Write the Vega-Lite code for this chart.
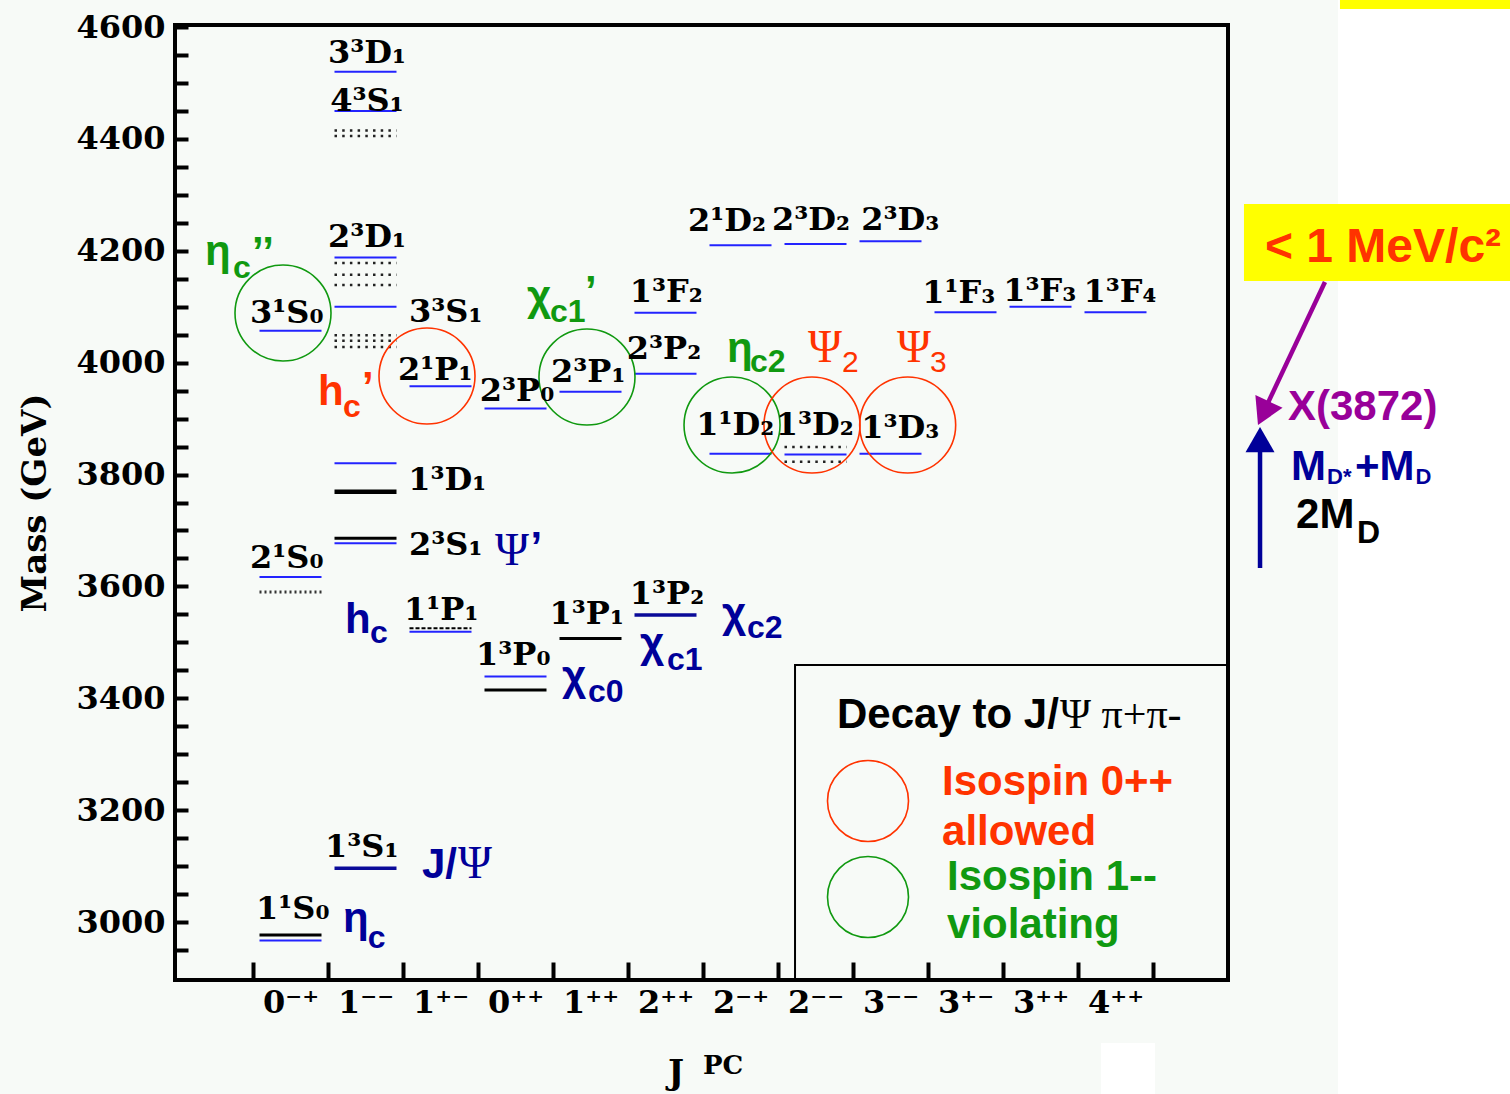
{
"$schema": "https://vega.github.io/schema/vega-lite/v6.json",
"width": 1053, "height": 955,
"autosize": "none",
"padding": {"left": 175, "top": 25, "right": 282, "bottom": 114},
"background": "#f7faf7",
"config": {"view": {"stroke": "#000000", "strokeWidth": 4}, "text": {"font": "Liberation Sans"}},
"datasets": {
"levels": [
{"x":0,"y":4057,"k":"b"},{"x":0,"y":3617,"k":"b"},{"x":0,"y":3590,"k":"h"},{"x":0,"y":2977,"k":"k"},{"x":0,"y":2967,"k":"b"},
{"x":1,"y":4520,"k":"b"},{"x":1,"y":4450,"k":"b"},{"x":1,"y":4415,"k":"d"},{"x":1,"y":4405,"k":"d"},{"x":1,"y":4188,"k":"b"},{"x":1,"y":4178,"k":"d"},{"x":1,"y":4157,"k":"d"},{"x":1,"y":4139,"k":"d"},{"x":1,"y":4100,"k":"b"},{"x":1,"y":4049,"k":"d"},{"x":1,"y":4039,"k":"d"},{"x":1,"y":4028,"k":"d"},{"x":1,"y":3820,"k":"b"},{"x":1,"y":3769,"k":"kk"},{"x":1,"y":3686,"k":"k"},{"x":1,"y":3677,"k":"b"},{"x":1,"y":3096,"k":"n"},
{"x":2,"y":3958,"k":"b"},{"x":2,"y":3525,"k":"dash"},{"x":2,"y":3519,"k":"b"},
{"x":3,"y":3918,"k":"b"},{"x":3,"y":3439,"k":"b"},{"x":3,"y":3415,"k":"k"},
{"x":4,"y":3948,"k":"b"},{"x":4,"y":3507,"k":"k"},
{"x":5,"y":4089,"k":"b"},{"x":5,"y":3980,"k":"b"},{"x":5,"y":3549,"k":"n"},
{"x":6,"y":4210,"k":"b"},{"x":6,"y":3837,"k":"b"},
{"x":7,"y":4212,"k":"b"},{"x":7,"y":3849,"k":"d"},{"x":7,"y":3836,"k":"b"},{"x":7,"y":3823,"k":"d"},
{"x":8,"y":4217,"k":"b"},{"x":8,"y":3837,"k":"b"},
{"x":9,"y":4090,"k":"b"},{"x":10,"y":4100,"k":"b"},{"x":11,"y":4090,"k":"b"}
],
"states": [
{"t":"3³D₁","x":1.02,"y":4553.5},{"t":"4³S₁","x":1.02,"y":4467.7},{"t":"2³D₁","x":1.02,"y":4224.6},
{"t":"3¹S₀","x":-0.05,"y":4088.7},{"t":"3³S₁","x":2.07,"y":4090.5},{"t":"2¹P₁","x":1.93,"y":3986.9},
{"t":"2³P₀","x":3.02,"y":3949.3},{"t":"2³P₁","x":3.97,"y":3983.3},{"t":"2³P₂","x":4.98,"y":4024.4},
{"t":"1³F₂","x":5.01,"y":4126.3},{"t":"2¹D₂","x":5.82,"y":4253.2},{"t":"2³D₂","x":6.94,"y":4255},
{"t":"2³D₃","x":8.13,"y":4255},{"t":"1¹F₃","x":8.91,"y":4124.5},{"t":"1³F₃","x":9.99,"y":4128},
{"t":"1³F₄","x":11.06,"y":4126.3},{"t":"1¹D₂","x":5.93,"y":3888.5},{"t":"1³D₂","x":6.99,"y":3888.5},
{"t":"1³D₃","x":8.13,"y":3883},{"t":"1³D₁","x":2.09,"y":3790.2},{"t":"2³S₁","x":2.07,"y":3674},
{"t":"2¹S₀","x":-0.05,"y":3650.8},{"t":"1¹P₁","x":2.01,"y":3557.8},{"t":"1³P₁","x":3.95,"y":3550.7},
{"t":"1³P₂","x":5.02,"y":3586.4},{"t":"1³P₀","x":2.97,"y":3477.4},{"t":"1³S₁","x":0.95,"y":3134.2},
{"t":"1¹S₀","x":0.03,"y":3023.3}
],
"ann": [
{"t":"η","x":-1.14,"y":4174.6,"g":"violating","p":"main"},
{"t":"c","x":-0.767,"y":4151.3,"g":"violating","p":"sub"},
{"t":"’’","x":-0.513,"y":4172.8,"g":"violating","p":"main"},
{"t":"h","x":0.367,"y":3924.3,"g":"allowed","p":"main"},
{"t":"c","x":0.70,"y":3902.8,"g":"allowed","p":"sub"},
{"t":"’","x":0.953,"y":3931.4,"g":"allowed","p":"main"},
{"t":"h","x":0.727,"y":3516.7,"g":"pdg","p":"main"},
{"t":"c","x":1.06,"y":3498.8,"g":"pdg","p":"sub"},
{"t":"η","x":0.70,"y":2982.2,"g":"pdg","p":"main"},
{"t":"c","x":1.03,"y":2953.6,"g":"pdg","p":"sub"},
{"t":"J/","x":1.753,"y":3078.8,"g":"pdg","p":"main"},
{"t":"Ψ","x":2.233,"y":3078.8,"g":"pdg","p":"psi"},
{"t":"Ψ","x":2.727,"y":3638.3,"g":"pdg","p":"psi"},
{"t":"’","x":3.2,"y":3645.4,"g":"pdg","p":"main"},
{"t":"χ","x":3.62,"y":3414.8,"g":"pdg","p":"main"},
{"t":"c0","x":3.967,"y":3392.9,"g":"pdg","p":"sub"},
{"t":"χ","x":4.66,"y":3473.8,"g":"pdg","p":"main"},
{"t":"c1","x":5.02,"y":3450.6,"g":"pdg","p":"sub"},
{"t":"χ","x":5.753,"y":3527.4,"g":"pdg","p":"main"},
{"t":"c2","x":6.087,"y":3507.8,"g":"pdg","p":"sub"},
{"t":"χ","x":3.153,"y":4094.1,"g":"violating","p":"main"},
{"t":"c1","x":3.46,"y":4072.7,"g":"violating","p":"sub"},
{"t":"’","x":3.927,"y":4103.0,"g":"violating","p":"main"},
{"t":"η","x":5.82,"y":4001.2,"g":"violating","p":"main"},
{"t":"c2","x":6.127,"y":3983.3,"g":"violating","p":"sub"},
{"t":"Ψ","x":6.9,"y":4001.2,"g":"allowed","p":"psi"},
{"t":"2","x":7.353,"y":3983.3,"g":"allowed","p":"subn"},
{"t":"Ψ","x":8.087,"y":4001.2,"g":"allowed","p":"psi"},
{"t":"3","x":8.527,"y":3983.3,"g":"allowed","p":"subn"},
{"t":"X(3872)","x":13.3,"y":3897.5,"g":"x","p":"main"},
{"t":"M","x":13.34,"y":3790.2,"g":"pdg","p":"main"},
{"t":"D*","x":13.82,"y":3783,"g":"pdg","p":"xsub"},
{"t":"+M","x":14.193,"y":3790.2,"g":"pdg","p":"main"},
{"t":"D","x":15.0,"y":3783,"g":"pdg","p":"xsub"},
{"t":"2M","x":13.407,"y":3704.4,"g":"thr","p":"main"},
{"t":"D","x":14.22,"y":3677.6,"g":"thr","p":"sub"},
{"t":"< 1 MeV/c²","x":12.993,"y":4179.9,"g":"note","p":"note"},
{"t":"Decay to J/","x":7.287,"y":3346.9,"g":"thr","p":"main"},
{"t":"Ψ π+π-","x":10.26,"y":3346.9,"g":"thr","p":"psileg"},
{"t":"Isospin 0++","x":8.687,"y":3227.1,"g":"allowed","p":"main"},
{"t":"allowed","x":8.687,"y":3137.8,"g":"allowed","p":"main"},
{"t":"Isospin 1--","x":8.753,"y":3057.3,"g":"violating","p":"main"},
{"t":"violating","x":8.753,"y":2971.5,"g":"violating","p":"main"},
{"t":"J","x":5.033,"y":2711,"g":"thr","p":"tJ"},
{"t":"PC","x":5.5,"y":2728,"g":"thr","p":"tPC"}
],
"circles": [
{"x":-0.10,"y":4088.7,"g":"violating","p":"plot"},
{"x":1.82,"y":3976.1,"g":"allowed","p":"plot"},
{"x":3.953,"y":3974.3,"g":"violating","p":"plot"},
{"x":5.887,"y":3888.5,"g":"violating","p":"plot"},
{"x":6.953,"y":3888.5,"g":"allowed","p":"plot"},
{"x":8.229,"y":3888.5,"g":"allowed","p":"plot"},
{"x":7.7,"y":3216.4,"g":"allowed","p":"leg"},
{"x":7.7,"y":3044.8,"g":"violating","p":"leg"}
],
"boxes": [
{"x":13.967,"x2":17,"y":2600,"y2":4700,"k":"white"},
{"x":10.807,"x2":11.527,"y":2600,"y2":2783.8,"k":"white"},
{"x":13.993,"x2":17,"y":4632.2,"y2":4700,"k":"yellow"},
{"x":12.713,"x2":16.3,"y":4283.6,"y2":4145.9,"k":"yellow"},
{"x":6.727,"x2":12.5,"y":3459.5,"y2":2896.4,"k":"legend"}
],
"hl": [
{"y":3871,"k":"dash"},{"y":3728,"k":"dash"},{"y":3888.5,"k":"dot"}
],
"arrows": [
{"x":13.793,"y":4144.2,"x2":13.007,"y2":3920.7,"g":"x"},
{"x":12.927,"y":3632.9,"x2":12.927,"y2":3852.8,"g":"pdg"}
],
"heads": [
{"x":12.973,"y":3909.6,"g":"x"},
{"x":12.927,"y":3862.4,"g":"pdg"}
]
},
"encoding": {
"x": {"field":"x","type":"quantitative","scale":{"domain":[-1.54,12.5],"nice":false,"zero":false},
 "axis":{"values":[-0.5,0.5,1.5,2.5,3.5,4.5,5.5,6.5,7.5,8.5,9.5,10.5,11.5],"labelExpr":"['0⁻⁺','1⁻⁻','1⁺⁻','0⁺⁺','1⁺⁺','2⁺⁺','2⁻⁺','2⁻⁻','3⁻⁻','3⁺⁻','3⁺⁺','4⁺⁺',''][datum.value + 0.5]","labelOffset":37.5,"ticks":true,"tickSize":-18,"tickWidth":4,"tickColor":"#000000","domain":false,"grid":false,"labelFont":"DejaVu Serif","labelFontWeight":"bold","labelFontSize":32,"labelColor":"#000000","labelPadding":25,"labelFlush":false,"labelOverlap":false,"title":null}},
"y": {"field":"y","type":"quantitative","scale":{"domain":[2896.4,4603.6],"nice":false,"zero":false},
 "axis":{"values":[2950,3000,3050,3100,3150,3200,3250,3300,3350,3400,3450,3500,3550,3600,3650,3700,3750,3800,3850,3900,3950,4000,4050,4100,4150,4200,4250,4300,4350,4400,4450,4500,4550,4600],"format":"d","labelExpr":"datum.value % 200 == 0 ? datum.label : ''","ticks":true,"tickSize":-13,"tickWidth":4,"tickColor":"#000000","domain":false,"grid":false,"labelFont":"DejaVu Serif","labelFontWeight":"bold","labelFontSize":32,"labelColor":"#000000","labelPadding":23,"labelFlush":false,"labelOverlap":false,"title":"Mass (GeV)","titleFont":"DejaVu Serif","titleFontWeight":"bold","titleFontSize":34,"titleColor":"#000000","titlePadding":23}}
},
"layer": [
{"data":{"name":"boxes"},"transform":[{"filter":"datum.k=='white'"}],"mark":{"type":"rect","fill":"#ffffff"},"encoding":{"x2":{"field":"x2"},"y2":{"field":"y2"}}},
{"data":{"name":"boxes"},"transform":[{"filter":"datum.k=='yellow'"}],"mark":{"type":"rect","fill":"#ffff00"},"encoding":{"x2":{"field":"x2"},"y2":{"field":"y2"}}},
{"data":{"name":"boxes"},"transform":[{"filter":"datum.k=='legend'"}],"mark":{"type":"rect","filled":false,"color":"#000000","strokeWidth":2},"encoding":{"x2":{"field":"x2"},"y2":{"field":"y2"}}},
{"data":{"name":"hl"},"transform":[{"filter":"datum.k=='dash'"}],"mark":{"type":"rule","color":"#222222","strokeWidth":1.5,"strokeDash":[12,8]},"encoding":{"x":{"datum":-1.54},"x2":{"datum":12.5}}},
{"data":{"name":"levels"},"transform":[{"filter":"datum.k=='b'"}],"mark":{"type":"rule","color":"#2323ff","strokeWidth":2,"xOffset":-31,"x2Offset":31},"encoding":{"x2":{"field":"x"}}},
{"data":{"name":"levels"},"transform":[{"filter":"datum.k=='k'"}],"mark":{"type":"rule","color":"#000000","strokeWidth":3,"xOffset":-31,"x2Offset":31},"encoding":{"x2":{"field":"x"}}},
{"data":{"name":"levels"},"transform":[{"filter":"datum.k=='kk'"}],"mark":{"type":"rule","color":"#000000","strokeWidth":4.5,"xOffset":-31,"x2Offset":31},"encoding":{"x2":{"field":"x"}}},
{"data":{"name":"levels"},"transform":[{"filter":"datum.k=='n'"}],"mark":{"type":"rule","color":"#0a0a99","strokeWidth":3.5,"xOffset":-31,"x2Offset":31},"encoding":{"x2":{"field":"x"}}},
{"data":{"name":"levels"},"transform":[{"filter":"datum.k=='d'"}],"mark":{"type":"rule","color":"#222222","strokeWidth":2.5,"strokeDash":[2.5,5.2],"xOffset":-31,"x2Offset":31},"encoding":{"x2":{"field":"x"}}},
{"data":{"name":"levels"},"transform":[{"filter":"datum.k=='dash'"}],"mark":{"type":"rule","color":"#000000","strokeWidth":2,"strokeDash":[4,2],"xOffset":-31,"x2Offset":31},"encoding":{"x2":{"field":"x"}}},
{"data":{"name":"levels"},"transform":[{"filter":"datum.k=='h'"}],"mark":{"type":"rule","color":"#333333","strokeWidth":3,"strokeDash":[2,3],"xOffset":-31,"x2Offset":31},"encoding":{"x2":{"field":"x"}}},
{"data":{"name":"circles"},"transform":[{"filter":"datum.p=='plot'"}],"mark":{"type":"point","shape":"circle","filled":false,"size":9216,"strokeWidth":1.6,"opacity":1},"encoding":{"color":{"field":"g","type":"nominal","legend":null,"scale":{"domain":["pdg","allowed","violating","x","thr","note"],"range":["#000099","#ff3300","#109910","#990099","#000000","#ff3300"]}}}},
{"data":{"name":"circles"},"transform":[{"filter":"datum.p=='leg'"}],"mark":{"type":"point","shape":"circle","filled":false,"size":6561,"strokeWidth":1.6,"opacity":1},"encoding":{"color":{"field":"g","type":"nominal","legend":null,"scale":{"domain":["pdg","allowed","violating","x","thr","note"],"range":["#000099","#ff3300","#109910","#990099","#000000","#ff3300"]}}}},
{"data":{"name":"states"},"mark":{"type":"text","font":"DejaVu Serif","fontWeight":"bold","fontSize":32,"align":"center","baseline":"middle","color":"#000000"},"encoding":{"text":{"field":"t"}}},
{"data":{"name":"ann"},"transform":[{"filter":"datum.p=='main'"}],"mark":{"type":"text","font":"Liberation Sans","fontWeight":"bold","fontSize":42,"align":"left","baseline":"alphabetic"},"encoding":{"text":{"field":"t"},"color":{"field":"g","type":"nominal","legend":null,"scale":{"domain":["pdg","allowed","violating","x","thr","note"],"range":["#000099","#ff3300","#109910","#990099","#000000","#ff3300"]}}}},
{"data":{"name":"ann"},"transform":[{"filter":"datum.p=='sub'"}],"mark":{"type":"text","font":"Liberation Sans","fontWeight":"bold","fontSize":32,"align":"left","baseline":"alphabetic"},"encoding":{"text":{"field":"t"},"color":{"field":"g","type":"nominal","legend":null,"scale":{"domain":["pdg","allowed","violating","x","thr","note"],"range":["#000099","#ff3300","#109910","#990099","#000000","#ff3300"]}}}},
{"data":{"name":"ann"},"transform":[{"filter":"datum.p=='xsub'"}],"mark":{"type":"text","font":"Liberation Sans","fontWeight":"bold","fontSize":22,"align":"left","baseline":"alphabetic"},"encoding":{"text":{"field":"t"},"color":{"field":"g","type":"nominal","legend":null,"scale":{"domain":["pdg","allowed","violating","x","thr","note"],"range":["#000099","#ff3300","#109910","#990099","#000000","#ff3300"]}}}},
{"data":{"name":"ann"},"transform":[{"filter":"datum.p=='subn'"}],"mark":{"type":"text","font":"Liberation Sans","fontSize":30,"align":"left","baseline":"alphabetic"},"encoding":{"text":{"field":"t"},"color":{"field":"g","type":"nominal","legend":null,"scale":{"domain":["pdg","allowed","violating","x","thr","note"],"range":["#000099","#ff3300","#109910","#990099","#000000","#ff3300"]}}}},
{"data":{"name":"ann"},"transform":[{"filter":"datum.p=='psi'"}],"mark":{"type":"text","font":"Liberation Serif","fontSize":46,"align":"left","baseline":"alphabetic"},"encoding":{"text":{"field":"t"},"color":{"field":"g","type":"nominal","legend":null,"scale":{"domain":["pdg","allowed","violating","x","thr","note"],"range":["#000099","#ff3300","#109910","#990099","#000000","#ff3300"]}}}},
{"data":{"name":"ann"},"transform":[{"filter":"datum.p=='psileg'"}],"mark":{"type":"text","font":"Liberation Serif","fontSize":42,"align":"left","baseline":"alphabetic"},"encoding":{"text":{"field":"t"},"color":{"field":"g","type":"nominal","legend":null,"scale":{"domain":["pdg","allowed","violating","x","thr","note"],"range":["#000099","#ff3300","#109910","#990099","#000000","#ff3300"]}}}},
{"data":{"name":"ann"},"transform":[{"filter":"datum.p=='note'"}],"mark":{"type":"text","font":"Liberation Sans","fontWeight":"bold","fontSize":48,"align":"left","baseline":"alphabetic"},"encoding":{"text":{"field":"t"},"color":{"field":"g","type":"nominal","legend":null,"scale":{"domain":["pdg","allowed","violating","x","thr","note"],"range":["#000099","#ff3300","#109910","#990099","#000000","#ff3300"]}}}},
{"data":{"name":"ann"},"transform":[{"filter":"datum.p=='tJ'"}],"mark":{"type":"text","font":"DejaVu Serif","fontWeight":"bold","fontSize":34,"align":"left","baseline":"alphabetic","color":"#000000"},"encoding":{"text":{"field":"t"}}},
{"data":{"name":"ann"},"transform":[{"filter":"datum.p=='tPC'"}],"mark":{"type":"text","font":"DejaVu Serif","fontWeight":"bold","fontSize":26,"align":"left","baseline":"alphabetic","color":"#000000"},"encoding":{"text":{"field":"t"}}},
{"data":{"name":"hl"},"transform":[{"filter":"datum.k=='dot'"}],"mark":{"type":"rule","color":"#990099","strokeWidth":4.5,"strokeDash":[0.1,10.9],"strokeCap":"round"},"encoding":{"x":{"datum":-2.0},"x2":{"datum":15.66}}},
{"data":{"name":"arrows"},"mark":{"type":"rule","strokeWidth":4.5},"encoding":{"x2":{"field":"x2"},"y2":{"field":"y2"},"color":{"field":"g","type":"nominal","legend":null,"scale":{"domain":["pdg","allowed","violating","x","thr","note"],"range":["#000099","#ff3300","#109910","#990099","#000000","#ff3300"]}}}},
{"data":{"name":"heads"},"transform":[{"filter":"datum.g=='x'"}],"mark":{"type":"point","shape":"triangle-up","filled":true,"size":900,"angle":205,"opacity":1,"strokeWidth":0},"encoding":{"color":{"field":"g","type":"nominal","legend":null,"scale":{"domain":["pdg","allowed","violating","x","thr","note"],"range":["#000099","#ff3300","#109910","#990099","#000000","#ff3300"]}}}},
{"data":{"name":"heads"},"transform":[{"filter":"datum.g=='pdg'"}],"mark":{"type":"point","shape":"triangle-up","filled":true,"size":841,"angle":0,"opacity":1,"strokeWidth":0},"encoding":{"color":{"field":"g","type":"nominal","legend":null,"scale":{"domain":["pdg","allowed","violating","x","thr","note"],"range":["#000099","#ff3300","#109910","#990099","#000000","#ff3300"]}}}}
]
}
